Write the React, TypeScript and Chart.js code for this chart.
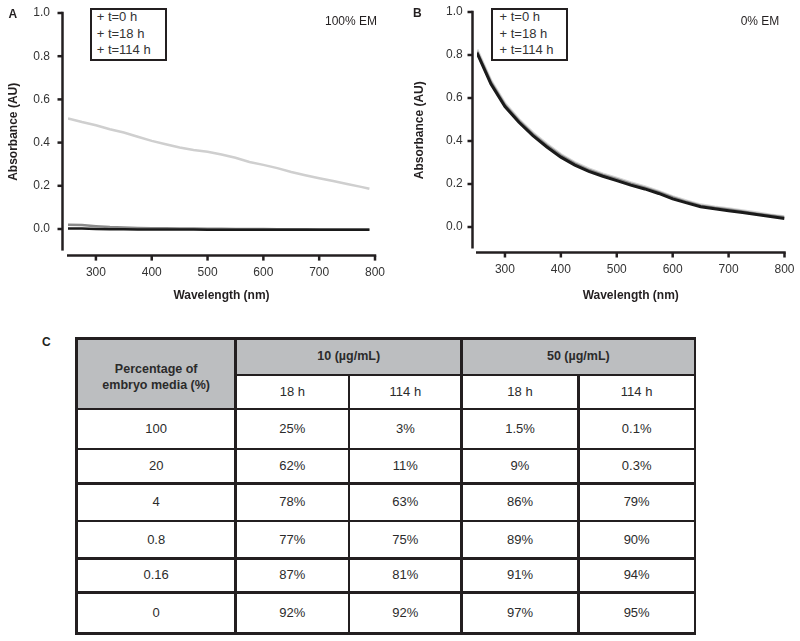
import React, { useEffect, useRef } from 'react';
import { Chart, registerables } from 'chart.js';

Chart.register(...registerables);

// ---------- DATA ----------
const wavelengthsA = [250, 275, 300, 325, 350, 375, 400, 425, 450, 475, 500, 525, 550, 575, 600, 625, 650, 675, 700, 725, 750, 775, 790];
const emA_t0 = [0.512, 0.495, 0.48, 0.462, 0.447, 0.427, 0.408, 0.392, 0.377, 0.366, 0.358, 0.345, 0.33, 0.31, 0.297, 0.282, 0.264, 0.249, 0.235, 0.222, 0.208, 0.195, 0.186];
const emA_t18 = [0.02, 0.018, 0.013, 0.009, 0.007, 0.005, 0.004, 0.003, 0.002, 0.002, 0.001, 0.001, 0.0, 0.0, 0.0, -0.001, -0.001, -0.001, -0.002, -0.002, -0.002, -0.002, -0.002];
const emA_t114 = [0.002, 0.002, 0.0, -0.001, -0.001, -0.002, -0.002, -0.002, -0.002, -0.002, -0.003, -0.003, -0.003, -0.003, -0.003, -0.003, -0.003, -0.003, -0.003, -0.003, -0.003, -0.003, -0.003];

const wavelengthsB = [250, 275, 300, 325, 350, 375, 400, 425, 450, 475, 500, 525, 550, 575, 600, 625, 650, 675, 700, 725, 750, 775, 800];
const emB_t0 = [0.825, 0.68, 0.574, 0.5, 0.438, 0.385, 0.337, 0.3, 0.27, 0.247, 0.227, 0.206, 0.187, 0.166, 0.141, 0.121, 0.103, 0.093, 0.085, 0.076, 0.066, 0.056, 0.048];
const emB_t18 = [0.815, 0.672, 0.566, 0.493, 0.431, 0.378, 0.331, 0.294, 0.264, 0.241, 0.221, 0.2, 0.182, 0.161, 0.136, 0.116, 0.098, 0.088, 0.08, 0.071, 0.061, 0.052, 0.044];
const emB_t114 = [0.81, 0.665, 0.56, 0.487, 0.425, 0.372, 0.325, 0.288, 0.259, 0.236, 0.216, 0.195, 0.177, 0.156, 0.131, 0.112, 0.094, 0.085, 0.076, 0.067, 0.058, 0.049, 0.04];

const yTickValues = [0, 0.2, 0.4, 0.6, 0.8, 1.0];
const xTickValues = [300, 400, 500, 600, 700, 800];
const legendLabels = ['t=0 h', 't=18 h', 't=114 h'];

const emPercentRows = ['100', '20', '4', '0.8', '0.16', '0'];
const conc10_18h = [25, 62, 78, 77, 87, 92];
const conc10_114h = [3, 11, 63, 75, 81, 92];
const conc50_18h = [1.5, 9, 86, 89, 91, 97];
const conc50_114h = [0.1, 0.3, 79, 90, 94, 95];
const concHeaders = ['10 (µg/mL)', '50 (µg/mL)'];
const timeHeaders = ['18 h', '114 h'];

// ---------- STYLE ----------
const FONT = '"Liberation Sans", Arial, Helvetica, sans-serif';
const INK = '#231f20';

const offsetAxesPlugin = {
  id: 'offsetAxes',
  afterDraw(chart: any, _args: any, opts: any) {
    const { ctx } = chart;
    const x = chart.scales.x;
    const y = chart.scales.y;
    const ax = x.getPixelForValue(x.min) - opts.dx;
    const ay = y.getPixelForValue(y.min) + opts.dy;
    ctx.save();
    ctx.strokeStyle = INK;
    ctx.lineWidth = 2.5;
    ctx.lineCap = 'butt';
    ctx.beginPath();
    ctx.moveTo(ax, y.getPixelForValue(1.0) - 1.25);
    ctx.lineTo(ax, y.getPixelForValue(y.min));
    ctx.stroke();
    yTickValues.forEach((v) => {
      const py = y.getPixelForValue(v);
      ctx.beginPath();
      ctx.moveTo(ax - 5, py);
      ctx.lineTo(ax, py);
      ctx.stroke();
    });
    ctx.beginPath();
    ctx.moveTo(x.getPixelForValue(x.min) - 1, ay);
    ctx.lineTo(x.getPixelForValue(x.max) + 1.25, ay);
    ctx.stroke();
    xTickValues.forEach((v) => {
      const px = x.getPixelForValue(v);
      ctx.beginPath();
      ctx.moveTo(px, ay);
      ctx.lineTo(px, ay + 5);
      ctx.stroke();
    });
    ctx.restore();
  },
};

function toPoints(xs: number[], ys: number[]) {
  return xs.map((x, i) => ({ x, y: ys[i] }));
}

type PanelCfg = {
  datasets: any[];
  padTop: number;
  padRight: number;
  yWidth: number;
  xHeight: number;
  yTickPad: number;
  xTickPad: number;
  yTitlePad: number;
  dx: number;
  dy: number;
};

function Panel({ left, cfg }: { left: number; cfg: PanelCfg }) {
  const ref = useRef<HTMLCanvasElement>(null);
  useEffect(() => {
    if (!ref.current) return;
    const chart = new Chart(ref.current, {
      type: 'line',
      data: { datasets: cfg.datasets },
      plugins: [offsetAxesPlugin],
      options: {
        animation: false,
        responsive: false,
        maintainAspectRatio: false,
        layout: { padding: { top: cfg.padTop, right: cfg.padRight, left: 0, bottom: 0 } },
        elements: { point: { radius: 0 }, line: { tension: 0 } },
        plugins: {
          legend: { display: false },
          tooltip: { enabled: false },
          offsetAxes: { dx: cfg.dx, dy: cfg.dy },
        } as any,
        scales: {
          x: {
            type: 'linear',
            min: 250,
            max: 800,
            afterFit: (s: any) => { s.height = cfg.xHeight; s.paddingLeft = 0; s.paddingRight = 0; },
            afterBuildTicks: (s: any) => { s.ticks = xTickValues.map((v) => ({ value: v })); },
            grid: { display: false, drawTicks: false },
            border: { display: false },
            ticks: { padding: cfg.xTickPad, color: '#333', font: { family: FONT, size: 12 }, maxRotation: 0, callback: (v: any) => String(v) },
            title: { display: true, text: 'Wavelength (nm)', color: INK, font: { family: FONT, size: 12, weight: 'bold' }, padding: { top: 0, bottom: 7 } },
          },
          y: {
            min: -0.1,
            max: 1.0,
            afterFit: (s: any) => { s.width = cfg.yWidth; s.paddingTop = 0; s.paddingBottom = 0; },
            afterBuildTicks: (s: any) => { s.ticks = yTickValues.map((v) => ({ value: v })); },
            grid: { display: false, drawTicks: false },
            border: { display: false },
            ticks: { padding: cfg.yTickPad, color: '#333', font: { family: FONT, size: 12 }, callback: (v: any) => Number(v).toFixed(1) },
            title: { display: true, text: 'Absorbance (AU)', color: INK, font: { family: FONT, size: 12, weight: 'bold' }, padding: { top: cfg.yTitlePad, bottom: 0 } },
          },
        },
      } as any,
    });
    return () => chart.destroy();
  }, []);
  return (
    <canvas ref={ref} width={400} height={310} style={{ position: 'absolute', left, top: 0, width: 400, height: 310 }} />
  );
}

function Label({ text, x, y, size = 12, bold = false }: any) {
  const lh = 16;
  return (
    <div style={{ position: 'absolute', left: x, top: y - lh / 2, height: lh, lineHeight: lh + 'px', fontFamily: FONT, fontSize: size, fontWeight: bold ? 'bold' : 'normal', color: INK, whiteSpace: 'nowrap' }}>
      {text}
    </div>
  );
}

function LegendBox({ left, top, textLeft }: { left: number; top: number; textLeft: number }) {
  return (
    <div style={{ position: 'absolute', left, top, width: 77, height: 53, border: `2px solid ${INK}`, boxSizing: 'border-box', background: '#fff' }}>
      {legendLabels.map((l, i) => (
        <div key={l} style={{ position: 'absolute', left: textLeft - 2, top: i * 16.7 - 1.2, height: 16, lineHeight: '16px', fontFamily: FONT, fontSize: 13, color: '#333', whiteSpace: 'nowrap' }}>
          {'+ ' + l}
        </div>
      ))}
    </div>
  );
}

// table layout constants
const colEdges = [76.7, 235.7, 349, 461.7, 578.3, 695];
const rowEdges = [338.3, 375, 409, 449, 483.3, 521, 558.3, 592.3, 633.3];
const LW = 2.5;

function Cell({ x1, x2, y1, y2, text, bold = false, size = 13 }: any) {
  return (
    <div style={{ position: 'absolute', left: x1, top: y1, width: x2 - x1, height: y2 - y1, display: 'flex', alignItems: 'center', justifyContent: 'center', textAlign: 'center', fontFamily: FONT, fontSize: size, fontWeight: bold ? 'bold' : 'normal', color: '#2b2b2b', lineHeight: '15.7px' }}>
      {text}
    </div>
  );
}

function HLine({ y, x1, x2 }: any) {
  return <div style={{ position: 'absolute', left: x1 - LW / 2, top: y - LW / 2, width: x2 - x1 + LW, height: LW, background: INK }} />;
}
function VLine({ x, y1, y2 }: any) {
  return <div style={{ position: 'absolute', left: x - LW / 2, top: y1 - LW / 2, width: LW, height: y2 - y1 + LW, background: INK }} />;
}

function Table() {
  const c = colEdges;
  const r = rowEdges;
  const dataCols = [conc10_18h, conc10_114h, conc50_18h, conc50_114h];
  const cells: any[] = [];
  cells.push(<div key="g1" style={{ position: 'absolute', left: c[0], top: r[0], width: c[1] - c[0], height: r[2] - r[0], background: '#bcbec0' }} />);
  cells.push(<div key="g2" style={{ position: 'absolute', left: c[1], top: r[0], width: c[5] - c[1], height: r[1] - r[0], background: '#bcbec0' }} />);
  cells.push(
    <Cell key="h0" x1={c[0]} x2={c[1]} y1={r[0] + 9} y2={r[2]} bold size={12.5} text={<span>Percentage of<br />embryo media (%)</span>} />
  );
  concHeaders.forEach((h, i) => {
    cells.push(<Cell key={'ch' + i} x1={c[1 + i * 2]} x2={c[3 + i * 2]} y1={r[0]} y2={r[1]} bold size={12.5} text={h} />);
    timeHeaders.forEach((t, j) => {
      cells.push(<Cell key={'th' + i + j} x1={c[1 + i * 2 + j]} x2={c[2 + i * 2 + j]} y1={r[1]} y2={r[2]} text={t} />);
    });
  });
  emPercentRows.forEach((em, ri) => {
    cells.push(<Cell key={'em' + ri} x1={c[0]} x2={c[1]} y1={r[2 + ri]} y2={r[3 + ri]} text={em} />);
    dataCols.forEach((col, ci) => {
      cells.push(<Cell key={'d' + ri + ci} x1={c[1 + ci]} x2={c[2 + ci]} y1={r[2 + ri]} y2={r[3 + ri]} text={col[ri] + '%'} />);
    });
  });
  cells.push(<HLine key="hl0" y={r[0]} x1={c[0]} x2={c[5]} />);
  cells.push(<HLine key="hl1" y={r[1]} x1={c[1]} x2={c[5]} />);
  for (let i = 2; i < r.length; i++) cells.push(<HLine key={'hl' + i} y={r[i]} x1={c[0]} x2={c[5]} />);
  [0, 1, 3, 5].forEach((i) => cells.push(<VLine key={'vl' + i} x={c[i]} y1={r[0]} y2={r[8]} />));
  [2, 4].forEach((i) => cells.push(<VLine key={'vl' + i} x={c[i]} y1={r[1]} y2={r[8]} />));
  return <>{cells}</>;
}

const cfgA: PanelCfg = {
  datasets: [
    { label: legendLabels[2], data: toPoints(wavelengthsA, emA_t114), borderColor: '#1a1a1a', borderWidth: 2.5, order: 0 },
    { label: legendLabels[1], data: toPoints(wavelengthsA, emA_t18), borderColor: '#8a8a8a', borderWidth: 2.5, order: 1 },
    { label: legendLabels[0], data: toPoints(wavelengthsA, emA_t0), borderColor: '#cfcfcf', borderWidth: 2.5, order: 2 },
  ],
  padTop: 13,
  padRight: 25,
  yWidth: 68,
  xHeight: 59.4,
  yTickPad: 18,
  xTickPad: 15,
  yTitlePad: 6.8,
  dx: 5.5,
  dy: 5,
};

const cfgB: PanelCfg = {
  datasets: [
    { label: legendLabels[2], data: toPoints(wavelengthsB, emB_t114), borderColor: '#1a1a1a', borderWidth: 3, order: 0 },
    { label: legendLabels[1], data: toPoints(wavelengthsB, emB_t18), borderColor: '#8a8a8a', borderWidth: 3, order: 1 },
    { label: legendLabels[0], data: toPoints(wavelengthsB, emB_t0), borderColor: '#d6d6d6', borderWidth: 3, order: 2 },
  ],
  padTop: 12,
  padRight: 15.5,
  yWidth: 77,
  xHeight: 61.5,
  yTickPad: 14.3,
  xTickPad: 14.3,
  yTitlePad: 12.8,
  dx: 4.5,
  dy: 4,
};

export default function App() {
  return (
    <div style={{ position: 'absolute', left: 0, top: 0, width: 800, height: 641, background: '#fff', overflow: 'hidden' }}>
      <Panel left={0} cfg={cfgA} />
      <Panel left={400} cfg={cfgB} />
      <Label text="A" x={8.5} y={14} size={12} bold />
      <Label text="B" x={413} y={13} size={12} bold />
      <Label text="C" x={42} y={341.7} size={12} bold />
      <Label text="100% EM" x={325} y={21} size={12} />
      <Label text="0% EM" x={740.7} y={21} size={12} />
      <LegendBox left={90} top={8} textLeft={6.7} />
      <LegendBox left={490.5} top={8} textLeft={9} />
      <Table />
    </div>
  );
}
